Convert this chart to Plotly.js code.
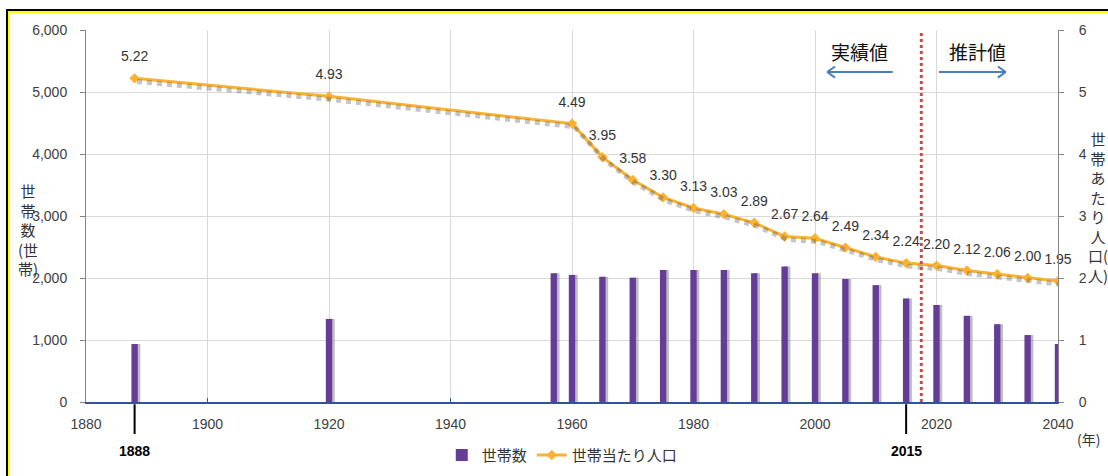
<!DOCTYPE html>
<html>
<head>
<meta charset="utf-8">
<script src="https://cdn.plot.ly/plotly-3.0.1.min.js"></script>
<style>
html,body{margin:0;padding:0;background:#fff;}
#wrap{position:relative;width:1108px;height:476px;overflow:hidden;}
#chart{position:absolute;left:0;top:0;width:1108px;height:476px;}
.b{position:absolute;pointer-events:none;}
</style>
</head>
<body>
<div id="wrap">
<div id="chart"></div>
<div class="b" style="left:6px;top:9px;width:1102px;height:2px;background:#000;"></div>
<div class="b" style="left:8px;top:11px;width:1100px;height:2px;background:#ffff00;"></div>
<div class="b" style="left:6px;top:9px;width:2px;height:467px;background:#000;"></div>
<div class="b" style="left:8px;top:11px;width:2px;height:465px;background:#ffff00;"></div>
</div>
<script>
// ---- data ----
const barYears = [1888, 1920, 1957, 1960, 1965, 1970, 1975, 1980, 1985, 1990, 1995, 2000, 2005, 2010, 2015, 2020, 2025, 2030, 2035, 2040];
const households = [935, 1340, 2075, 2050, 2020, 2005, 2130, 2130, 2130, 2075, 2185, 2075, 1985, 1885, 1670, 1565, 1390, 1255, 1080, 935];
const lineYears = [1888, 1920, 1960, 1965, 1970, 1975, 1980, 1985, 1990, 1995, 2000, 2005, 2010, 2015, 2020, 2025, 2030, 2035, 2040];
const perHousehold = [5.22, 4.93, 4.49, 3.95, 3.58, 3.30, 3.13, 3.03, 2.89, 2.67, 2.64, 2.49, 2.34, 2.24, 2.20, 2.12, 2.06, 2.00, 1.95];
const seriesNames = ['世帯数', '世帯当たり人口'];
const leftTitle = '世<br>帯<br>数<br>(世<br>帯)';
const rightTitle = '世<br>帯<br>あ<br>た<br>り<br>人<br>口(<br>人)';
const markedYears = [1888, 2015];
const splitYear = 2017.5;

const CJK = '"Noto Sans CJK JP", "Noto Sans", sans-serif';
const LAT = '"Liberation Sans", Arial, sans-serif';
const purple = '#673c99';
const orange = '#fbb131';

const traces = [
  { // bar shadow
    type: 'bar', x: barYears, y: households, width: 1.05, offset: -0.1,
    marker: {color: 'rgba(110,110,110,0.45)', line: {width: 0}},
    showlegend: false, hoverinfo: 'skip'
  },
  {
    type: 'bar', name: seriesNames[0], x: barYears, y: households, width: 1.05, offset: -0.525,
    marker: {color: purple, line: {width: 0}}
  },
  { // line shadow
    type: 'scatter', mode: 'lines', x: lineYears, y: perHousehold, xaxis: 'x2', yaxis: 'y3',
    line: {color: 'rgba(90,90,90,0.35)', width: 5, dash: 'dot'},
    showlegend: false, hoverinfo: 'skip'
  },
  {
    type: 'scatter', mode: 'lines+markers', name: seriesNames[1], x: lineYears, y: perHousehold, yaxis: 'y2',
    line: {color: orange, width: 3},
    marker: {symbol: 'diamond', size: 8, color: orange}
  },
  { // data labels
    type: 'scatter', mode: 'markers+text', x: lineYears, y: perHousehold, yaxis: 'y2',
    text: perHousehold.map(v => v.toFixed(2)), textposition: 'top center', cliponaxis: false,
    textfont: {family: LAT, size: 14, color: '#333333'},
    marker: {size: 20, color: 'rgba(0,0,0,0)'},
    showlegend: false, hoverinfo: 'skip'
  }
];

const shapes = [
  {type: 'line', xref: 'x', yref: 'paper', x0: splitYear, x1: splitYear, y0: 0, y1: 0.995,
   line: {color: '#c0504d', width: 3, dash: 'dot'}},
  // arrows
  {type: 'line', xref: 'x', yref: 'paper', x0: 2002, x1: 2012.8, y0: 0.887, y1: 0.887, line: {color: '#4a7ebb', width: 2}},
  {type: 'line', xref: 'x', yref: 'paper', x0: 2002, x1: 2003.3, y0: 0.887, y1: 0.902, line: {color: '#4a7ebb', width: 2}},
  {type: 'line', xref: 'x', yref: 'paper', x0: 2002, x1: 2003.3, y0: 0.887, y1: 0.872, line: {color: '#4a7ebb', width: 2}},
  {type: 'line', xref: 'x', yref: 'paper', x0: 2020.4, x1: 2031.4, y0: 0.887, y1: 0.887, line: {color: '#4a7ebb', width: 2}},
  {type: 'line', xref: 'x', yref: 'paper', x0: 2031.4, x1: 2030.1, y0: 0.887, y1: 0.902, line: {color: '#4a7ebb', width: 2}},
  {type: 'line', xref: 'x', yref: 'paper', x0: 2031.4, x1: 2030.1, y0: 0.887, y1: 0.872, line: {color: '#4a7ebb', width: 2}}
];
markedYears.forEach(yr => shapes.push({type: 'line', xref: 'x', yref: 'paper', x0: yr, x1: yr, y0: -0.006, y1: -0.086,
  line: {color: '#000', width: 2}}));

const annotations = [
  {xref: 'x', yref: 'paper', x: 2007.4, y: 0.941, xanchor: 'center', yanchor: 'middle', text: '実績値', showarrow: false,
   font: {family: CJK, size: 19, color: '#111'}},
  {xref: 'x', yref: 'paper', x: 2026.7, y: 0.941, xanchor: 'center', yanchor: 'middle', text: '推計値', showarrow: false,
   font: {family: CJK, size: 19, color: '#111'}},
  {xref: 'paper', yref: 'paper', x: 1.031, y: -0.1, xanchor: 'center', yanchor: 'middle', text: '(年)', showarrow: false,
   font: {family: CJK, size: 14, color: '#333'}},
  {xref: 'paper', yref: 'paper', x: -0.06, y: 0.465, xanchor: 'center', yanchor: 'middle', text: leftTitle, showarrow: false,
   font: {family: CJK, size: 15, color: '#333'}},
  {xref: 'paper', yref: 'paper', x: 1.041, y: 0.523, xanchor: 'center', yanchor: 'middle', text: rightTitle, showarrow: false,
   font: {family: CJK, size: 15, color: '#333'}}
];
markedYears.forEach(yr => annotations.push({xref: 'x', yref: 'paper', x: yr, y: -0.133, xanchor: 'center', yanchor: 'middle',
  text: '<b>' + yr + '</b>', showarrow: false, font: {family: LAT, size: 14, color: '#000'}}));

const layout = {
  width: 1108, height: 476,
  margin: {l: 86, r: 50, t: 30, b: 74, autoexpand: false},
  paper_bgcolor: '#fff', plot_bgcolor: '#fff',
  barmode: 'overlay',
  showlegend: true,
  legend: {orientation: 'h', x: 0.49, xanchor: 'center', y: -0.143, yanchor: 'middle',
    font: {family: CJK, size: 15, color: '#333'}, traceorder: 'normal'},
  xaxis: {range: [1880, 2040], tick0: 1880, dtick: 20, showgrid: true, gridcolor: '#d9d9d9',
    zeroline: false, showline: true, linecolor: '#2f5597', linewidth: 1.5,
    ticks: 'inside', ticklen: 4, tickcolor: '#2f5597', ticklabelstandoff: 9,
    tickfont: {family: LAT, size: 14, color: '#404040'}},
  xaxis2: {overlaying: 'x', range: [1879.6, 2039.6], visible: false},
  yaxis: {range: [0, 6000], dtick: 1000, tickformat: ',d', showgrid: true, gridcolor: '#d9d9d9',
    zeroline: false, showline: true, linecolor: '#868686', ticks: 'outside', ticklen: 5, tickcolor: '#868686',
    ticklabelstandoff: 10, tickfont: {family: LAT, size: 14, color: '#404040'}},
  yaxis2: {overlaying: 'y', side: 'right', range: [0, 6], dtick: 1, showgrid: false, zeroline: false,
    showline: true, linecolor: '#868686', ticks: 'outside', ticklen: 5, tickcolor: '#868686',
    ticklabelstandoff: 12, tickfont: {family: LAT, size: 14, color: '#404040'}},
  yaxis3: {overlaying: 'y', range: [0.05, 6.05], visible: false},
  shapes: shapes,
  annotations: annotations
};

Plotly.newPlot('chart', traces, layout, {displayModeBar: false, staticPlot: true});
</script>
</body>
</html>
